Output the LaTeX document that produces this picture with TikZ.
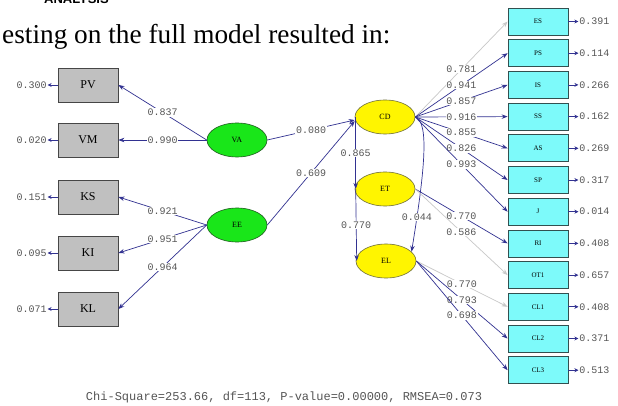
\documentclass[tikz,border=0pt]{standalone}
\usepackage{fontspec}
\setmainfont{Liberation Serif}
\setmonofont{Liberation Mono}
\setsansfont{Liberation Sans}
\usetikzlibrary{arrows.meta,shapes.geometric,calc}
\definecolor{navyline}{RGB}{50,50,145}
\definecolor{lightline}{RGB}{200,200,200}
\definecolor{coefgray}{RGB}{85,85,85}
\definecolor{boxgray}{RGB}{192,192,192}
\definecolor{boxborder}{RGB}{70,70,70}
\definecolor{cyanfill}{RGB}{125,250,250}
\definecolor{cyanborder}{RGB}{50,80,80}
\definecolor{greenfill}{RGB}{25,230,25}
\definecolor{greenborder}{RGB}{30,90,30}
\definecolor{yellowfill}{RGB}{255,245,0}
\definecolor{yellowborder}{RGB}{110,110,60}
\tikzset{
  obsL/.style={draw=boxborder, fill=boxgray, line width=0.8pt, minimum width=60pt, minimum height=34pt, inner sep=0pt, font=\fontsize{12}{12}\selectfont},
  obsR/.style={draw=cyanborder, fill=cyanfill, line width=0.8pt, minimum width=60pt, minimum height=27pt, inner sep=0pt, font=\fontsize{7}{7}\selectfont},
  latG/.style={ellipse, draw=greenborder, fill=greenfill, line width=0.6pt, minimum width=60pt, minimum height=34pt, inner sep=0pt, font=\fontsize{8}{8}\selectfont},
  latY/.style={ellipse, draw=yellowborder, fill=yellowfill, line width=0.6pt, minimum width=60pt, minimum height=34pt, inner sep=0pt, font=\fontsize{8}{8}\selectfont},
  dpath/.style={draw=navyline, line width=0.7pt, -{Stealth[length=6pt,width=4.5pt]}},
  gpath/.style={draw=lightline, line width=0.7pt, -{Stealth[length=6pt,width=4.5pt]}},
  errarr/.style={draw=navyline, line width=0.7pt, -{Stealth[length=4pt,width=4pt]}},
  coef/.style={font=\ttfamily\fontsize{10}{10}\selectfont, text=coefgray, fill=white, inner sep=0.8pt},
  errlab/.style={font=\ttfamily\fontsize{10}{10}\selectfont, text=coefgray, inner sep=0.8pt},
}
\begin{document}
\begin{tikzpicture}[x=1pt,y=-1pt]
\useasboundingbox (0,0) rectangle (618,406);
\clip (0,0) rectangle (618,406);
\fill[white] (0,0) rectangle (618,406);

\node[anchor=base west, font=\sffamily\bfseries\fontsize{13}{13}\selectfont, inner sep=0pt] (hdr) at (44,4) {ANALYSIS};
\node[anchor=base west, font=\fontsize{27.3}{28}\selectfont, inner sep=0pt] (title) at (2,44) {esting on the full model resulted in:};

% left observed
\node[obsL] (PV) at (88,85) {PV};
\node[obsL] (VM) at (88,140) {VM};
\node[obsL] (KS) at (88,197) {KS};
\node[obsL] (KI) at (88,253) {KI};
\node[obsL] (KL) at (88,309) {KL};
\foreach \n/\v in {PV/0.300,VM/0.020,KS/0.151,KI/0.095,KL/0.071}{
  \node[errlab, anchor=east] (e\n) at ($(\n.west)+(-10,0)$) {\v};
  \draw[errarr] (\n.west) -- (e\n.east);
}

% latents
\node[latG] (VA) at (237,140) {VA};
\node[latG] (EE) at (237,225) {EE};
\node[latY] (CD) at (385,117) {CD};
\node[latY] (ET) at (385,189) {ET};
\node[latY] (EL) at (386,261) {EL};

% right observed
\node[obsR] (ES) at (538,21.5) {ES};
\node[obsR] (PS) at (538,53.2) {PS};
\node[obsR] (IS) at (538,84.9) {IS};
\node[obsR] (SS) at (538,116.6) {SS};
\node[obsR] (AS) at (538,148.3) {AS};
\node[obsR] (SP) at (538,180) {SP};
\node[obsR] (J) at (538,211.7) {J};
\node[obsR] (RI) at (538,243.4) {RI};
\node[obsR] (OT1) at (538,275.1) {OT1};
\node[obsR] (CL1) at (538,306.8) {CL1};
\node[obsR] (CL2) at (538,338.5) {CL2};
\node[obsR] (CL3) at (538,370.2) {CL3};
\foreach \n/\v in {ES/0.391,PS/0.114,IS/0.266,SS/0.162,AS/0.269,SP/0.317,J/0.014,RI/0.408,OT1/0.657,CL1/0.408,CL2/0.371,CL3/0.513}{
  \node[errlab, anchor=west] (e\n) at ($(\n.east)+(10,0)$) {\v};
  \draw[errarr] (\n.east) -- (e\n.west);
}

% left loadings
\draw[dpath] (VA.west) -- (PV.east) node[coef, pos=0.5] {0.837};
\draw[dpath] (VA.west) -- (VM.east) node[coef, pos=0.5] {0.990};
\draw[dpath] (EE.west) -- (KS.east) node[coef, pos=0.5] {0.921};
\draw[dpath] (EE.west) -- (KI.east) node[coef, pos=0.5] {0.951};
\draw[dpath] (EE.west) -- (KL.east) node[coef, pos=0.5] {0.964};

% structural
\draw[dpath] (VA.east) -- ([yshift=-3pt]CD.west) node[coef, pos=0.5] {0.080};
\draw[dpath] (EE.east) -- ([yshift=-4pt]CD.west) node[coef, pos=0.5] {0.609};
\draw[dpath] ([xshift=1pt]CD.west) -- ([xshift=1pt]ET.west) node[coef, pos=0.5] {0.865};
\draw[dpath] ([xshift=1pt]ET.west) -- ([xshift=1pt]EL.west) node[coef, pos=0.5] {0.770};
\draw[dpath] (CD.east) .. controls (430,122) and (424,175) .. (EL.20) node[coef, pos=0.84] {0.044};

% CD loadings
\draw[gpath] (CD.east) -- (ES.west) node[coef, pos=0.5] {0.781};
\draw[dpath] (CD.east) -- (PS.west) node[coef, pos=0.5] {0.941};
\draw[dpath] (CD.east) -- (IS.west) node[coef, pos=0.5] {0.857};
\draw[dpath] (CD.east) -- (SS.west) node[coef, pos=0.5] {0.916};
\draw[dpath] (CD.east) -- (AS.west) node[coef, pos=0.5] {0.855};
\draw[dpath] (CD.east) -- (SP.west) node[coef, pos=0.5] {0.826};
\draw[dpath] (CD.east) -- (J.west) node[coef, pos=0.5] {0.993};

% ET loadings
\draw[dpath] (ET.east) -- (RI.west) node[coef, pos=0.5] {0.770};
\draw[gpath] (ET.east) -- (OT1.west) node[coef, pos=0.5] {0.586};

% EL loadings
\draw[gpath] (EL.east) -- (CL1.west) node[coef, pos=0.5] {0.770};
\draw[dpath] (EL.east) -- (CL2.west) node[coef, pos=0.5] {0.793};
\draw[dpath] (EL.east) -- (CL3.west) node[coef, pos=0.5] {0.698};

\node[font=\ttfamily\fontsize{12}{12}\selectfont, text=coefgray, inner sep=0pt] (fit) at (284,397) {Chi-Square=253.66, df=113, P-value=0.00000, RMSEA=0.073};
\end{tikzpicture}
\end{document}
